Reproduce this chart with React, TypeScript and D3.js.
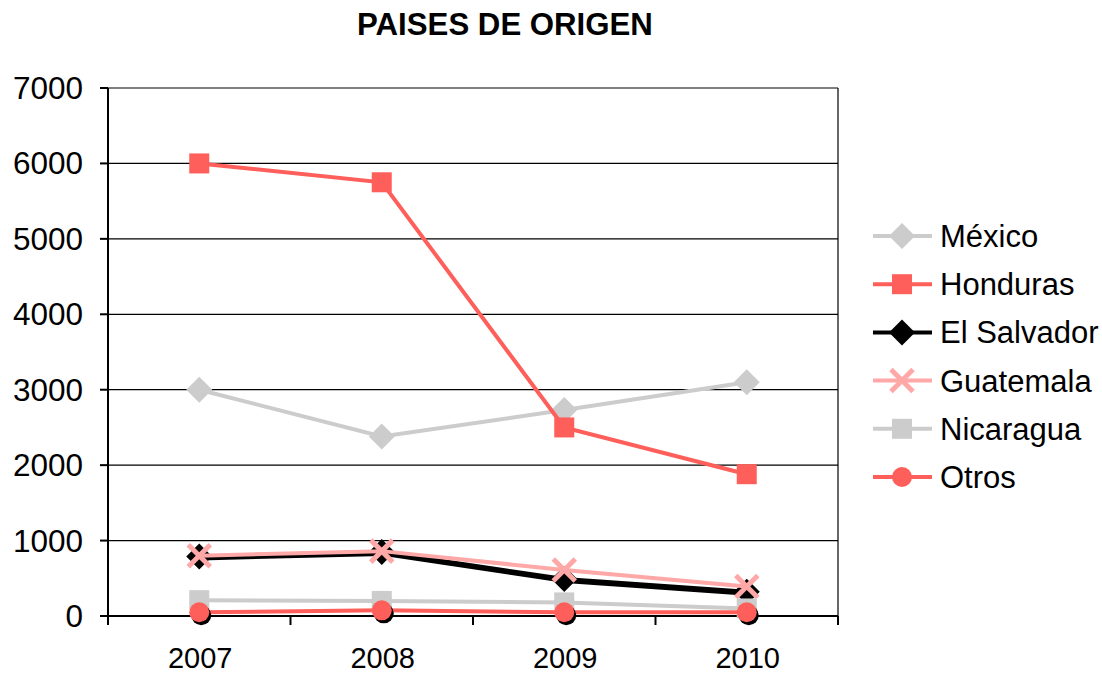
import React from 'react';
import * as d3 from 'd3';

const years = ['2007', '2008', '2009', '2010'];
const mexico = [3000, 2380, 2730, 3100];
const honduras = [6000, 5750, 2500, 1880];
const elSalvador = [790, 850, 490, 320];
const guatemala = [800, 860, 610, 390];
const nicaragua = [210, 200, 180, 100];
const otros = [50, 75, 50, 50];
const yTicks = [0, 1000, 2000, 3000, 4000, 5000, 6000, 7000];

const series = [
  { name: 'México', values: mexico, color: '#cccccc', marker: 'diamond' },
  { name: 'Honduras', values: honduras, color: '#ff5f5a', marker: 'square' },
  { name: 'El Salvador', values: elSalvador, color: '#000000', marker: 'diamond' },
  { name: 'Guatemala', values: guatemala, color: '#ffa8a8', marker: 'x' },
  { name: 'Nicaragua', values: nicaragua, color: '#cccccc', marker: 'square' },
  { name: 'Otros', values: otros, color: '#ff5f5a', marker: 'circle' },
];

const W = 1102;
const H = 675;
const plot = { left: 108, right: 838, top: 88, bottom: 616 };
const font = '"Liberation Sans", Arial, sans-serif';

function Marker({ type, x, y, color, shadow }: { type: string; x: number; y: number; color: string; shadow?: boolean }) {
  if (type === 'diamond') {
    const r = 13;
    return <path d={`M${x},${y - r}L${x + r},${y}L${x},${y + r}L${x - r},${y}Z`} fill={color} />;
  }
  if (type === 'square') {
    const s = 10;
    return <rect x={x - s} y={y - s} width={s * 2} height={s * 2} fill={color} />;
  }
  if (type === 'circle') {
    return (
      <g>
        {shadow && <circle cx={x + 2} cy={y + 3} r={10} fill="#000" />}
        <circle cx={x} cy={y} r={10} fill={color} />
      </g>
    );
  }
  const a = 11;
  return (
    <g stroke={color} strokeWidth={5} strokeLinecap="butt">
      <line x1={x - a} y1={y - a} x2={x + a} y2={y + a} />
      <line x1={x - a} y1={y + a} x2={x + a} y2={y - a} />
    </g>
  );
}

export default function App() {
  const x = d3.scaleBand().domain(years).range([plot.left, plot.right]);
  const y = d3.scaleLinear().domain([0, 7000]).range([plot.bottom, plot.top]);
  const cx = (d: string) => (x(d) as number) + x.bandwidth() / 2;
  const line = d3.line<number>().x((_, i) => cx(years[i])).y((v) => y(v));
  const bounds = [...years.map((d) => x(d) as number), plot.right];

  return (
    <svg width={W} height={H} style={{ position: 'absolute', left: 0, top: 0, background: '#fff' }} fontFamily={font}>
      <text x={505} y={35} textAnchor="middle" fontSize={31.2} fontWeight="bold">PAISES DE ORIGEN</text>

      {yTicks.map((t) => (
        <g key={t}>
          <line x1={plot.left} x2={plot.right} y1={y(t)} y2={y(t)} stroke="#000" strokeWidth={1.2} />
          <line x1={plot.left - 8} x2={plot.left} y1={y(t)} y2={y(t)} stroke="#000" strokeWidth={2} />
          <text x={83} y={y(t) + 11} textAnchor="end" fontSize={31.5}>{t}</text>
        </g>
      ))}
      <line x1={plot.right} x2={plot.right} y1={plot.top} y2={plot.bottom} stroke="#000" strokeWidth={1.2} />
      <line x1={plot.left} x2={plot.left} y1={plot.top} y2={plot.bottom + 8} stroke="#000" strokeWidth={2} />
      <line x1={plot.left} x2={plot.right} y1={plot.bottom} y2={plot.bottom} stroke="#000" strokeWidth={2} />
      {bounds.map((b, i) => (
        <line key={i} x1={b} x2={b} y1={plot.bottom} y2={plot.bottom + 9} stroke="#000" strokeWidth={2} />
      ))}
      {years.map((d) => (
        <text key={d} x={cx(d) + 1} y={668} textAnchor="middle" fontSize={29}>{d}</text>
      ))}

      {series.map((s) => (
        <g key={s.name}>
          {s.name === 'El Salvador' && (
            <path d={line(s.values) || ''} transform="translate(1,2)" fill="none" stroke="#000" strokeWidth={4} />
          )}
          <path d={line(s.values) || ''} fill="none" stroke={s.color} strokeWidth={4} />
          {s.values.map((v, i) => (
            <Marker key={i} type={s.marker} x={cx(years[i])} y={y(v)} color={s.color} shadow={s.name === 'Otros'} />
          ))}
        </g>
      ))}

      {series.map((s, i) => {
        const ly = 236 + i * 48.2;
        return (
          <g key={s.name}>
            <line x1={873} x2={932} y1={ly} y2={ly} stroke={s.color} strokeWidth={4} />
            <Marker type={s.marker} x={902} y={ly} color={s.color} />
            <text x={940} y={ly + 11} fontSize={31}>{s.name}</text>
          </g>
        );
      })}
    </svg>
  );
}
